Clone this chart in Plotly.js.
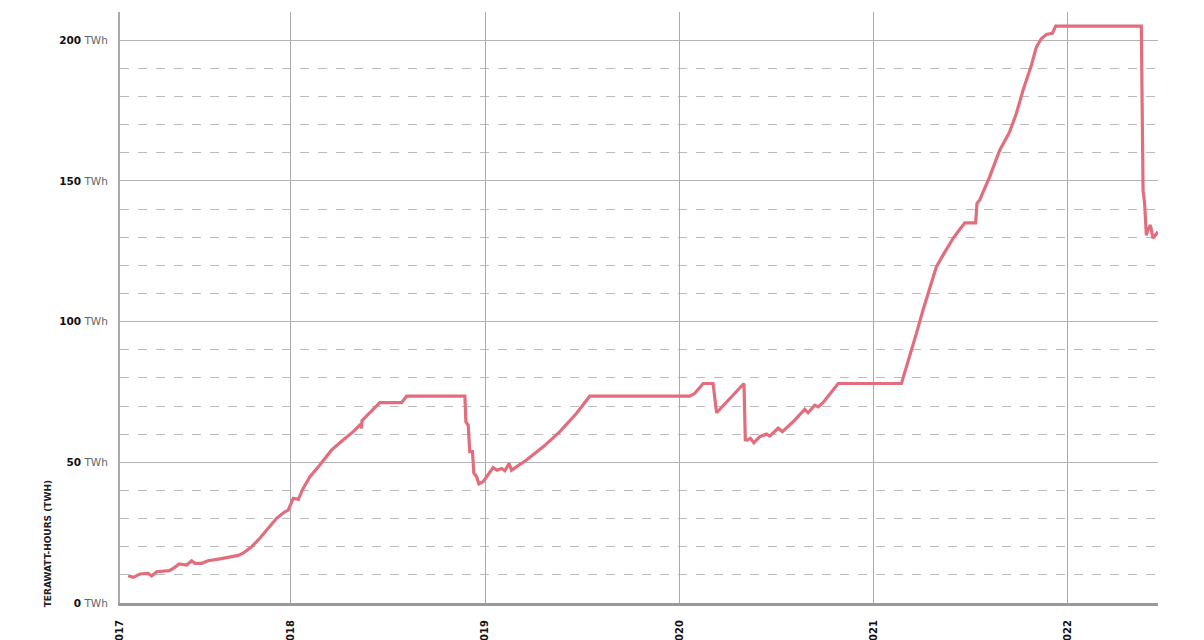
<!DOCTYPE html>
<html>
<head>
<meta charset="utf-8">
<script src="https://cdn.plot.ly/plotly-3.0.1.min.js"></script>
<style>
  html, body { margin: 0; padding: 0; background: #fff; }
  #chart { width: 1204px; height: 640px; }
</style>
</head>
<body>
<div id="chart"></div>
<script>
// Time expressed as decimal years
const yearFrac = [
  2017.162, 2017.188, 2017.223, 2017.265, 2017.283, 2017.309, 2017.374, 2017.394, 2017.425, 2017.463,
  2017.489, 2017.506, 2017.540, 2017.574, 2017.635, 2017.669, 2017.729, 2017.754, 2017.798, 2017.840,
  2017.883, 2017.926, 2017.969, 2017.986, 2018.012, 2018.038, 2018.063, 2018.098, 2018.149, 2018.210,
  2018.269, 2018.321, 2018.360, 2018.364, 2018.366, 2018.386, 2018.415, 2018.458, 2018.570, 2018.596,
  2018.896, 2018.901, 2018.913, 2018.921, 2018.935, 2018.942, 2018.956, 2018.968, 2018.990, 2019.016,
  2019.041, 2019.062, 2019.085, 2019.102, 2019.124, 2019.136, 2019.213, 2019.299, 2019.385, 2019.471,
  2019.539, 2020.054, 2020.080, 2020.123, 2020.174, 2020.192, 2020.333, 2020.340, 2020.349, 2020.366,
  2020.384, 2020.414, 2020.449, 2020.466, 2020.509, 2020.531, 2020.586, 2020.646, 2020.663, 2020.698,
  2020.715, 2020.740, 2020.818, 2021.144, 2021.187, 2021.221, 2021.255, 2021.290, 2021.324, 2021.358,
  2021.410, 2021.435, 2021.470, 2021.526, 2021.533, 2021.547, 2021.598, 2021.650, 2021.701, 2021.736,
  2021.770, 2021.813, 2021.839, 2021.865, 2021.890, 2021.921, 2021.938, 2022.379, 2022.388, 2022.396,
  2022.405, 2022.413, 2022.426, 2022.439, 2022.465
];
// Terawatt-hours
const twh = [
  9.7, 9.1, 10.3, 10.5, 9.6, 11.1, 11.5, 12.3, 13.9, 13.5,
  15.0, 14.1, 14.1, 15.0, 15.7, 16.2, 16.9, 17.7, 20.0, 23.0,
  26.5, 30.1, 32.4, 33.0, 37.2, 36.8, 40.7, 44.9, 49.0, 54.4,
  57.9, 60.9, 63.6, 62.0, 64.8, 66.2, 68.6, 71.2, 71.2, 73.5,
  73.5, 64.4, 63.2, 53.8, 53.8, 46.1, 44.9, 42.3, 43.1, 45.5,
  48.1, 47.2, 47.8, 47.0, 49.6, 47.2, 50.8, 55.5, 60.9, 67.4,
  73.5, 73.5, 74.5, 78.0, 78.0, 67.6, 78.0, 58.0, 57.9, 58.5,
  56.9, 59.1, 60.0, 59.3, 62.1, 60.9, 64.4, 68.8, 67.6, 70.3,
  69.7, 71.2, 78.0, 78.0, 87.5, 95.8, 104.1, 112.4, 119.5, 123.6,
  129.6, 131.9, 135.1, 135.1, 142.0, 143.2, 151.4, 160.9, 167.4, 174.0,
  182.2, 191.1, 197.6, 200.6, 202.0, 202.4, 205.0, 205.0, 146.7, 142.0,
  130.7, 132.5, 134.3, 129.6, 131.9
];

const xTickVals = [2017.12, 2018, 2019, 2020, 2021, 2022];
const xTickText = ['2017', '2018', '2019', '2020', '2021', '2022'];
const yTickVals = [0, 50, 100, 150, 200];
const yUnit = 'TWh';
const yTitle = 'TERAWATT-HOURS (TWH)';

const yTickText = yTickVals.map(v => '<b>' + v + '</b> <span style="color:#666">' + yUnit + '</span>');

const trace = {
  x: yearFrac,
  y: twh,
  type: 'scatter',
  mode: 'lines',
  line: { color: '#e26d7c', width: 3.2 },
  hoverinfo: 'x+y'
};

const layout = {
  width: 1204,
  height: 640,
  margin: { l: 120, r: 46, t: 12, b: 37 },
  paper_bgcolor: '#fff',
  plot_bgcolor: '#fff',
  showlegend: false,
  font: { family: 'DejaVu Sans, Verdana, sans-serif', size: 10, color: '#111' },
  xaxis: {
    type: 'linear',
    range: [2017.12, 2022.465],
    tickmode: 'array',
    tickvals: xTickVals,
    ticktext: xTickText,
    tickangle: -90,
    tickfont: { family: 'DejaVu Sans, Verdana, sans-serif', size: 10, color: '#111', weight: 'bold' },
    ticks: '',
    ticklabelstandoff: 10,
    showgrid: true,
    gridcolor: '#aaa',
    gridwidth: 1,
    zeroline: false,
    showline: true,
    linecolor: '#999',
    linewidth: 3
  },
  yaxis: {
    range: [0, 210],
    tickmode: 'array',
    tickvals: yTickVals,
    ticktext: yTickText,
    tickfont: { family: 'DejaVu Sans, Verdana, sans-serif', size: 10.5, color: '#111' },
    ticks: '',
    ticklabelstandoff: 8,
    showgrid: true,
    gridcolor: '#b4b4b4',
    gridwidth: 1,
    zeroline: false,
    showline: true,
    linecolor: '#aaa',
    linewidth: 2,
    minor: {
      tickmode: 'linear',
      tick0: 0,
      dtick: 10,
      showgrid: true,
      gridcolor: '#bbb',
      griddash: 'dash',
      gridwidth: 1,
      ticks: ''
    }
  },
  annotations: [{
    text: yTitle,
    xref: 'paper', yref: 'paper',
    x: -0.069, y: 0.10,
    xanchor: 'center', yanchor: 'middle',
    textangle: -90,
    showarrow: false,
    font: { family: 'DejaVu Sans, Verdana, sans-serif', size: 9, color: '#222', weight: 'bold' }
  }]
};

Plotly.newPlot('chart', [trace], layout, { displayModeBar: false, staticPlot: true });
</script>
</body>
</html>
